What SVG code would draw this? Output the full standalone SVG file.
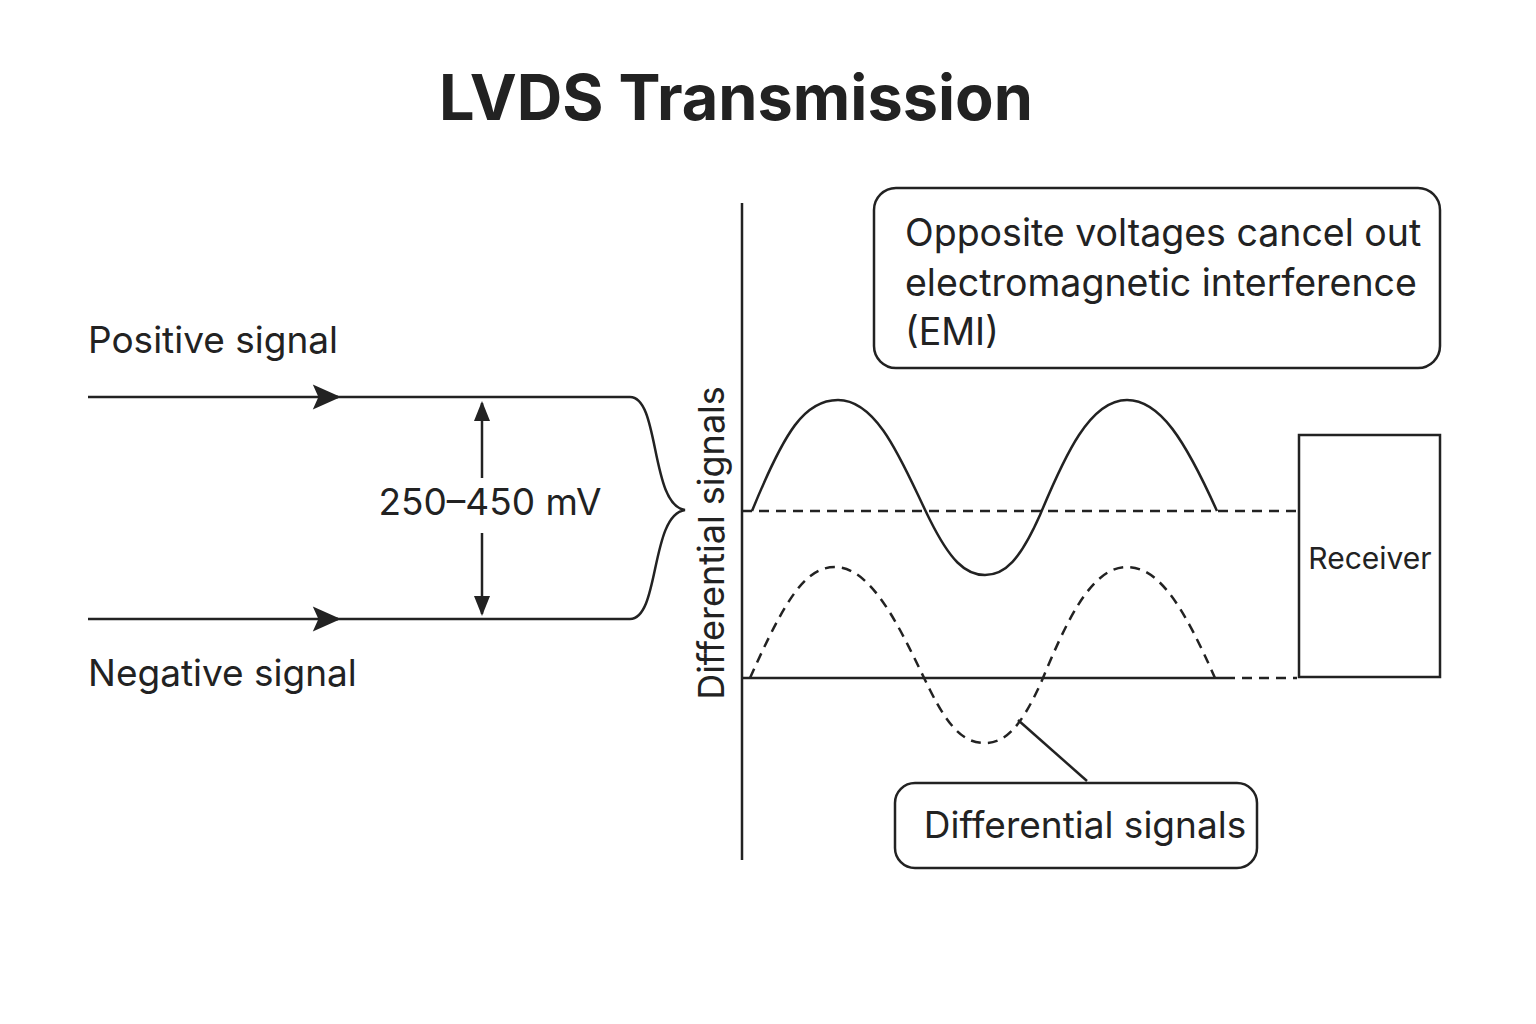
<svg xmlns="http://www.w3.org/2000/svg" width="1536" height="1024" viewBox="0 0 1536 1024">
<style>
text{font-family:Inter,"Liberation Sans",sans-serif;fill:#222}
.l{stroke:#222;stroke-width:2.5;fill:none}
.d{stroke:#222;stroke-width:2.5;fill:none;stroke-dasharray:10 7}
</style>
<defs>
<marker id="a" viewBox="0 0 10 10" refX="9" refY="5" markerWidth="22" markerHeight="20" markerUnits="userSpaceOnUse" orient="auto-start-reverse"><path d="M0,1 L10,5 L0,9 Z" fill="#222"/></marker>
<marker id="b" viewBox="0 0 10 10" refX="9" refY="5" markerWidth="32" markerHeight="28" markerUnits="userSpaceOnUse" orient="auto"><path d="M0,0.5 L10,5 L0,9.5 L2,5 Z" fill="#222"/></marker>
</defs>
<rect width="1536" height="1024" fill="#fff"/>
<text x="736" y="120" font-size="63" font-weight="bold" text-anchor="middle">LVDS Transmission</text>
<g id="connectors">
<path class="l" d="M88,397 H338" marker-end="url(#b)"/>
<path class="l" d="M330,397 H630"/>
<path class="l" d="M88,619 H338" marker-end="url(#b)"/>
<path class="l" d="M330,619 H630"/>
<path class="l" d="M630,397 C660,397 650,505 685,510 C650,515 660,619 630,619"/>
<path class="l" d="M482,478 V403" marker-end="url(#a)"/>
<path class="l" d="M482,533 V614" marker-end="url(#a)"/>
<path class="l" d="M742,203 V860"/>
<path class="d" d="M742,511 H1297"/>
<path class="l" d="M742,678 H1225"/>
<path class="d" d="M1225,678 H1297"/>
<path class="l" d="M752,511 C785,430 805,400 838,400 C880,400 905,470 930,520 C950,560 965,575 985,575 C1005,575 1020,560 1040,515 C1065,455 1090,400 1127,400 C1160,400 1185,440 1217,511"/>
<path class="d" d="M750,678 C785,600 805,567 835,567 C875,567 905,640 930,690 C950,730 965,743 985,743 C1005,743 1020,728 1040,685 C1065,625 1090,567 1127,567 C1160,567 1185,610 1215,678"/>
<path class="l" d="M1018,720 L1087,781"/>
</g>
<text x="88" y="353" font-size="37">Positive signal</text>
<text x="88" y="686" font-size="37">Negative signal</text>
<text x="490" y="515" font-size="37" text-anchor="middle">250–450 mV</text>
<text transform="translate(724,543) rotate(-90)" font-size="36" text-anchor="middle">Differential signals</text>
<g id="emi"><rect x="874" y="188" width="566" height="180" rx="22" class="l"/>
<text x="905" y="246" font-size="37.5">Opposite voltages cancel out</text>
<text x="905" y="296" font-size="37.5">electromagnetic interference</text>
<text x="905" y="345" font-size="37.5">(EMI)</text></g>
<g id="receiver"><rect x="1299" y="435" width="141" height="242" class="l"/>
<text x="1370" y="569" font-size="30" text-anchor="middle">Receiver</text></g>
<g id="diff"><rect x="895" y="783" width="362" height="85" rx="20" class="l"/>
<text x="1085" y="838" font-size="37" text-anchor="middle">Differential signals</text></g>
</svg>
